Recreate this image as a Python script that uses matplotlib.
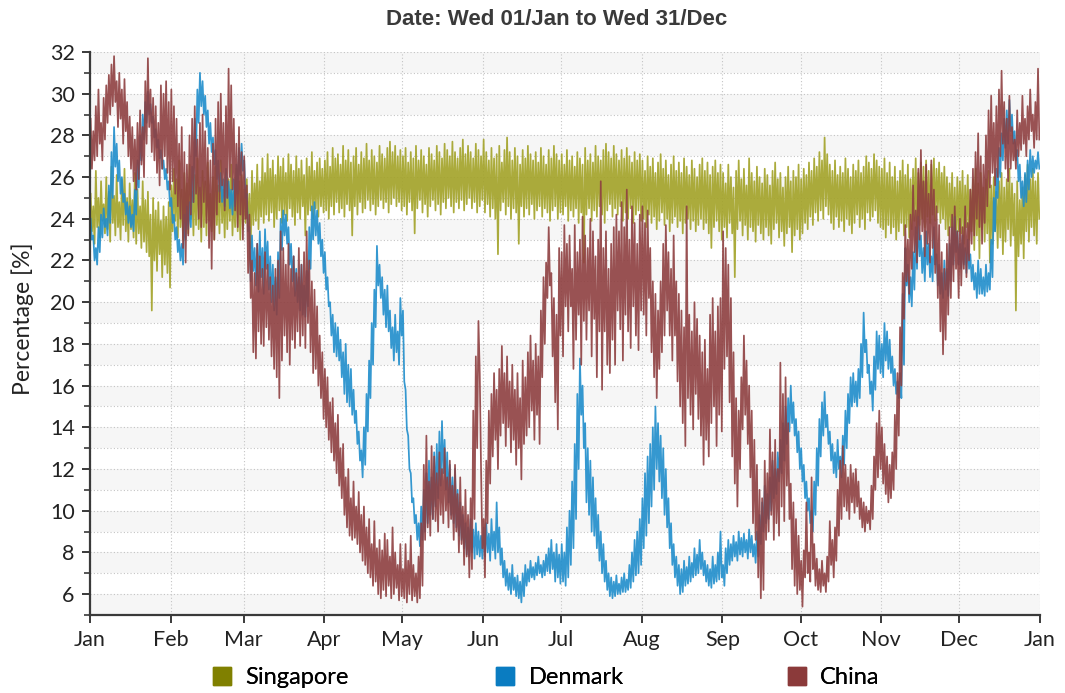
import matplotlib.pyplot as plt
import numpy as np
from matplotlib.lines import Line2D
from matplotlib.ticker import MultipleLocator

month_labels = ["Jan", "Feb", "Mar", "Apr", "May", "Jun", "Jul",
                "Aug", "Sep", "Oct", "Nov", "Dec", "Jan"]
month_starts = [0, 31, 59, 90, 120, 151, 181, 212, 243, 273, 304, 334, 365]
series_names = ["Singapore", "Denmark", "China"]

# daily high / low of each series, one row per month
singapore_hi = [
    25.2, 24.6, 26.3, 25.0, 25.8, 24.7, 26.0, 25.3, 26.5, 25.1, 26.1, 24.8, 25.9, 26.4, 25.0, 25.7, 24.9, 26.2, 25.4, 24.6, 25.8, 24.9, 25.3, 24.2, 25.0, 24.4, 24.8, 23.9, 24.6, 24.1, 24.8,
    25.6, 26.4, 25.9, 26.8, 25.4, 26.2, 25.7, 26.6, 25.3, 26.1, 26.9, 25.5, 26.3, 25.8, 26.7, 25.2, 26.0, 26.5, 25.6, 26.8, 25.4, 26.2, 25.9, 26.6, 25.3, 26.4, 25.8, 26.1,
    25.4, 25.9, 25.2, 26.3, 25.7, 26.6, 25.8, 26.9, 26.2, 27.1, 26.4, 26.8, 26.1, 27.0, 26.5, 26.9, 26.2, 27.1, 26.6, 26.3, 27.0, 26.4, 26.8, 26.1, 26.9, 26.5, 27.2, 26.3, 26.7, 26.9, 26.4,
    26.8, 27.2, 26.5, 27.4, 26.9, 27.1, 26.6, 27.5, 26.8, 27.3, 26.7, 27.0, 27.4, 26.6, 27.2, 26.9, 27.6, 26.8, 27.3, 27.0, 26.7, 27.5, 27.1, 26.9, 27.4, 27.7, 27.2, 27.5, 27.0, 27.3,
    27.0, 27.4, 26.7, 27.2, 26.9, 27.5, 26.8, 27.3, 27.0, 26.6, 27.4, 27.1, 26.8, 27.5, 27.2, 26.9, 27.6, 27.3, 27.0, 27.7, 27.2, 26.9, 27.4, 27.8, 27.1, 27.5, 27.2, 26.9, 27.6, 27.3, 27.0,
    27.8, 27.2, 26.8, 27.4, 26.9, 27.1, 27.5, 26.7, 27.3, 27.9, 27.2, 26.8, 27.4, 27.0, 26.6, 27.3, 26.9, 27.5, 27.1, 26.8, 27.2, 26.7, 27.4, 27.0, 26.6, 27.3, 26.9, 27.5, 27.1, 26.8,
    27.1, 26.6, 27.3, 26.8, 27.0, 26.5, 27.2, 26.9, 26.6, 27.4, 26.8, 27.1, 26.7, 27.5, 27.0, 26.8, 27.3, 27.6, 27.2, 26.9, 27.5, 27.1, 26.8, 27.3, 26.9, 27.4, 27.0, 26.7, 27.2, 26.8, 27.1,
    26.8, 26.3, 27.0, 26.5, 26.9, 26.2, 26.7, 27.1, 26.4, 26.8, 26.1, 26.6, 27.0, 26.3, 26.7, 26.2, 26.9, 26.5, 26.1, 26.8, 26.4, 26.0, 26.6, 26.9, 26.3, 26.7, 26.1, 26.5, 26.8, 26.2, 26.6,
    26.2, 25.7, 26.6, 26.0, 25.5, 26.3, 26.8, 25.9, 26.4, 25.6, 26.9, 26.2, 25.8, 26.5, 26.0, 25.7, 26.4, 26.1, 25.6, 26.3, 26.7, 25.9, 26.2, 25.5, 26.0, 26.5, 25.8, 26.3, 26.0, 26.6,
    25.9, 26.4, 26.1, 26.7, 26.3, 26.9, 26.5, 27.2, 26.8, 27.9, 27.1, 26.6, 26.3, 26.8, 26.1, 26.5, 26.2, 26.9, 26.4, 26.0, 26.6, 26.3, 26.8, 26.2, 26.5, 27.0, 26.7, 26.4, 27.1, 26.8, 26.5,
    26.4, 26.9, 26.2, 26.7, 26.0, 26.5, 25.8, 26.3, 26.8, 26.1, 26.6, 25.9, 26.4, 26.9, 26.2, 26.7, 26.5, 26.8, 26.3, 26.6, 26.9, 26.4, 26.7, 26.2, 26.5, 26.0, 25.7, 26.2, 25.5, 26.0,
    25.8, 26.3, 25.6, 26.1, 25.4, 25.9, 26.4, 25.7, 26.2, 25.5, 25.9, 26.3, 25.6, 26.0, 25.3, 25.8, 26.2, 25.5, 25.9, 26.4, 25.7, 25.2, 25.8, 24.9, 25.5, 26.1, 26.6, 25.9, 26.4, 25.8, 26.2,
]
singapore_lo = [
    23.4, 22.8, 23.6, 23.1, 23.9, 23.3, 23.5, 22.9, 23.8, 23.2, 23.6, 23.0, 23.7, 23.4, 22.9, 23.5, 23.1, 22.8, 23.3, 22.6, 22.9, 22.4, 22.2, 19.6, 22.0, 21.5, 22.3, 21.2, 21.8, 21.4, 20.7,
    23.4, 23.9, 23.1, 23.6, 23.0, 23.8, 23.3, 24.0, 23.2, 23.7, 23.5, 22.9, 23.6, 23.2, 23.9, 23.4, 23.0, 23.7, 23.3, 23.8, 23.1, 23.5, 23.9, 23.2, 23.6, 23.4, 23.0, 23.5,
    23.8, 23.4, 22.6, 23.7, 23.9, 23.5, 24.1, 23.8, 24.2, 23.9, 24.3, 23.6, 24.0, 24.4, 23.8, 24.2, 23.9, 24.5, 24.1, 23.7, 24.3, 24.0, 24.6, 23.2, 24.2, 24.4, 24.0, 24.5, 24.1, 24.6, 24.3,
    24.4, 24.0, 24.6, 24.2, 24.8, 24.3, 24.5, 24.1, 24.7, 24.4, 23.2, 24.6, 24.2, 24.8, 24.3, 24.5, 24.9, 24.4, 24.7, 24.2, 24.6, 24.9, 24.5, 24.8, 24.3, 24.7, 25.0, 24.6, 24.8, 24.4,
    24.6, 24.2, 24.8, 24.4, 23.3, 24.5, 24.9, 24.3, 24.7, 24.1, 24.6, 24.9, 24.4, 24.7, 24.2, 24.8, 24.5, 25.0, 24.6, 24.3, 24.8, 24.5, 24.9, 24.4, 24.7, 25.0, 24.5, 24.8, 24.3, 24.6, 24.9,
    24.3, 24.7, 24.1, 24.5, 24.0, 22.3, 24.4, 24.8, 24.2, 24.6, 24.0, 24.5, 24.3, 22.8, 24.6, 24.1, 24.5, 24.2, 24.7, 24.0, 24.4, 24.6, 24.1, 24.5, 24.3, 23.9, 24.4, 24.6, 24.0, 24.3,
    24.2, 24.6, 23.9, 24.4, 24.1, 24.5, 23.8, 24.3, 21.9, 24.2, 24.5, 23.9, 24.4, 24.1, 24.6, 24.2, 23.8, 24.4, 24.7, 24.1, 24.5, 24.2, 24.6, 23.9, 24.3, 24.0, 24.5, 23.8, 24.2, 24.4, 23.9,
    24.0, 23.6, 24.2, 23.8, 24.1, 23.5, 23.9, 24.3, 23.7, 24.0, 23.4, 23.8, 24.1, 23.6, 23.9, 23.3, 23.8, 24.0, 23.5, 23.9, 23.4, 23.7, 24.0, 23.5, 23.8, 23.3, 22.6, 23.6, 23.9, 23.4, 23.0,
    23.6, 23.1, 23.8, 23.3, 21.2, 23.5, 23.9, 23.2, 23.7, 23.0, 23.6, 23.4, 22.9, 23.7, 23.3, 23.0, 23.6, 23.2, 22.8, 23.5, 23.8, 23.1, 23.4, 22.7, 23.3, 23.6, 22.4, 23.2, 23.5, 23.0,
    23.3, 23.8, 23.5, 24.1, 23.7, 24.3, 23.9, 24.4, 24.0, 24.6, 24.2, 23.8, 23.5, 24.1, 23.6, 23.9, 23.4, 24.0, 23.7, 23.3, 23.8, 24.2, 23.6, 24.0, 23.5, 24.3, 23.9, 24.1, 24.4, 23.8, 23.6,
    23.5, 23.1, 23.7, 23.3, 23.6, 23.0, 23.4, 23.8, 23.2, 23.6, 23.1, 23.5, 23.9, 23.3, 23.7, 24.0, 23.6, 24.1, 23.8, 24.2, 23.9, 24.3, 23.8, 24.0, 23.5, 23.2, 23.6, 23.0, 22.9, 23.4,
    23.3, 22.8, 23.6, 23.0, 23.4, 22.5, 23.2, 22.1, 23.5, 22.9, 23.3, 21.9, 22.8, 23.4, 22.6, 23.1, 22.3, 22.9, 23.5, 22.7, 23.2, 19.6, 22.2, 22.8, 22.1, 23.4, 22.9, 23.6, 23.2, 22.8, 24.0,
]
denmark_hi = [
    24.0, 23.2, 22.6, 23.6, 24.2, 24.5, 24.0, 25.6, 27.2, 28.4, 27.6, 26.8, 26.0, 25.2, 24.8, 24.6, 24.2, 25.4, 26.8, 28.0, 29.0, 29.6, 30.1, 29.5, 28.9, 28.3, 27.8, 27.3, 26.8, 26.4, 25.8,
    25.0, 24.2, 23.6, 23.0, 22.8, 24.2, 24.6, 24.8, 26.5, 28.8, 30.2, 31.0, 30.6, 29.9, 29.2, 28.6, 27.9, 27.3, 26.8, 26.2, 25.9, 26.4, 25.8, 25.4, 25.9, 26.6, 27.4, 27.6,
    26.8, 25.2, 23.6, 23.2, 22.6, 22.8, 23.4, 22.6, 23.5, 22.9, 22.2, 21.8, 21.2, 22.4, 24.0, 24.4, 24.2, 23.6, 22.8, 22.2, 21.6, 21.2, 21.8, 20.8, 21.5, 23.6, 24.6, 24.8, 24.4, 23.8, 23.0,
    22.4, 21.2, 20.0, 19.4, 19.0, 18.8, 18.2, 17.6, 18.0, 17.0, 16.8, 15.8, 14.8, 13.8, 12.9, 14.0, 15.6, 17.2, 19.0, 20.6, 22.7, 21.8, 21.2, 20.6, 20.8, 19.6, 18.8, 19.4, 18.6, 20.2,
    19.6, 15.8, 13.6, 11.8, 10.6, 9.8, 9.4, 10.2, 11.0, 11.8, 12.4, 11.6, 12.8, 13.2, 13.8, 14.3, 13.4, 12.8, 12.2, 11.6, 12.0, 11.0, 10.4, 9.8, 9.4, 9.2, 9.6, 9.1, 9.4, 9.0, 8.8,
    9.2, 9.4, 8.9, 9.6, 9.0, 10.4, 9.2, 8.2, 7.6, 7.2, 7.0, 7.4, 6.8, 6.9, 6.6, 7.0, 7.4, 7.2, 7.6, 7.3, 7.5, 7.8, 7.4, 7.6, 7.9, 8.2, 8.6, 8.0, 8.4, 7.9,
    8.4, 8.0, 9.2, 10.0, 11.4, 13.2, 15.6, 17.3, 16.0, 14.2, 13.0, 12.4, 11.6, 10.6, 9.8, 9.0, 8.4, 7.6, 7.0, 6.8, 6.6, 6.9, 6.5, 6.8, 7.0, 6.7, 7.4, 8.0, 8.6, 9.0, 9.6,
    10.6, 11.8, 12.6, 13.2, 14.0, 15.0, 14.2, 13.6, 13.0, 12.0, 10.6, 9.4, 8.4, 7.8, 7.4, 7.2, 7.6, 7.3, 7.8, 7.5, 8.2, 7.9, 8.6, 8.0, 7.6, 7.4, 7.2, 7.8, 7.4, 8.0, 9.0,
    7.4, 8.2, 8.6, 8.4, 8.8, 8.5, 9.0, 8.7, 8.9, 8.6, 9.1, 8.8, 8.4, 9.0, 9.8, 10.4, 11.2, 10.8, 11.6, 12.4, 12.0, 12.8, 13.4, 14.2, 15.0, 15.4, 16.0, 15.2, 14.4, 13.8,
    13.0, 12.2, 11.4, 10.6, 10.0, 11.4, 13.0, 14.4, 15.2, 15.7, 14.6, 13.8, 13.2, 12.8, 13.4, 12.6, 13.6, 14.8, 15.6, 16.4, 16.6, 16.2, 16.8, 18.0, 19.5, 18.2, 17.0, 16.2, 17.4, 18.6, 18.4,
    18.0, 19.0, 18.6, 18.2, 17.4, 16.8, 16.2, 16.6, 20.4, 22.6, 21.8, 21.2, 22.4, 23.6, 24.1, 23.2, 22.6, 23.4, 22.8, 22.2, 23.6, 22.3, 21.8, 21.4, 22.0, 21.6, 22.8, 23.6, 24.1, 23.4,
    22.8, 23.2, 22.6, 23.0, 22.3, 21.8, 21.4, 22.0, 21.6, 21.2, 21.8, 21.4, 23.0, 25.0, 26.4, 27.4, 28.1, 28.8, 29.2, 29.7, 29.0, 28.2, 27.3, 26.6, 25.8, 26.2, 26.8, 27.3, 27.0, 26.8, 27.2,
]
denmark_lo = [
    23.0, 22.0, 21.8, 22.4, 23.1, 23.6, 23.2, 23.8, 25.0, 26.5, 25.8, 25.2, 24.8, 24.2, 23.8, 23.6, 23.4, 24.2, 25.5, 26.8, 27.8, 28.6, 29.0, 28.6, 27.9, 27.4, 26.9, 26.4, 25.9, 25.4, 24.6,
    23.8, 23.0, 22.4, 22.0, 21.8, 23.0, 23.5, 23.6, 24.8, 27.0, 28.6, 29.4, 29.0, 28.4, 27.6, 27.2, 26.6, 25.9, 25.3, 24.8, 24.6, 25.0, 24.5, 24.2, 24.6, 25.2, 26.1, 26.3,
    25.0, 23.4, 21.0, 21.5, 20.8, 20.5, 21.2, 20.4, 21.6, 20.6, 20.0, 19.6, 19.4, 20.2, 22.5, 23.2, 22.8, 21.8, 21.0, 20.3, 20.0, 19.6, 19.4, 19.3, 19.8, 21.6, 23.0, 23.2, 22.8, 22.2, 21.4,
    20.6, 19.8, 18.4, 17.6, 17.4, 17.2, 16.4, 15.6, 15.2, 15.0, 14.6, 14.2, 13.2, 12.4, 11.6, 12.2, 13.8, 15.4, 17.0, 18.8, 20.8, 20.2, 19.4, 18.8, 18.6, 17.8, 17.2, 17.6, 17.0, 18.4,
    16.2, 13.9, 12.0, 10.4, 9.4, 8.6, 8.3, 8.6, 9.0, 9.4, 9.8, 9.6, 10.2, 10.6, 11.2, 11.8, 11.0, 10.4, 9.8, 9.4, 9.2, 8.8, 8.6, 8.2, 7.9, 7.8, 8.0, 7.7, 7.9, 7.8, 7.7,
    7.8, 8.0, 7.6, 8.1, 7.7, 8.0, 7.4, 6.8, 6.4, 6.2, 6.0, 6.2, 5.9, 5.8, 5.6, 5.9, 6.4, 6.6, 6.8, 6.7, 6.9, 7.0, 6.8, 6.9, 7.1, 7.0, 7.2, 6.6, 6.8, 6.5,
    6.6, 6.4, 6.8, 7.4, 8.2, 9.6, 12.0, 14.6, 13.0, 10.4, 9.8, 9.0, 8.8, 8.2, 7.6, 7.0, 6.6, 6.2, 5.9, 5.8, 5.9, 6.0, 6.0, 6.1, 6.1, 6.2, 6.3, 6.6, 6.9, 7.0, 7.4,
    8.2, 8.8, 9.4, 10.2, 11.0, 12.0, 11.4, 10.6, 9.8, 9.2, 8.2, 7.4, 6.8, 6.4, 6.0, 6.1, 6.4, 6.5, 6.6, 6.8, 6.9, 7.0, 7.2, 6.9, 6.6, 6.4, 6.3, 6.5, 6.6, 6.7, 6.8,
    6.4, 7.0, 7.4, 7.6, 7.8, 7.6, 7.9, 7.8, 8.0, 7.7, 8.0, 7.8, 7.5, 7.8, 8.4, 9.0, 9.4, 9.6, 10.0, 10.6, 10.8, 11.4, 11.8, 12.4, 13.2, 13.8, 14.2, 13.6, 12.8, 12.0,
    11.4, 10.6, 10.0, 9.4, 9.0, 9.8, 11.2, 12.6, 13.6, 14.0, 13.2, 12.4, 11.8, 11.6, 12.0, 11.6, 12.2, 13.0, 14.2, 15.0, 15.2, 15.0, 15.4, 16.4, 17.6, 16.6, 15.6, 14.8, 15.8, 16.8, 16.6,
    16.4, 17.2, 16.8, 16.6, 16.0, 15.6, 15.4, 15.4, 17.0, 20.8, 20.0, 19.8, 20.6, 21.6, 22.2, 21.4, 21.0, 21.8, 21.2, 21.0, 21.8, 20.8, 20.4, 20.2, 20.6, 20.3, 21.0, 21.8, 22.4, 21.8,
    21.6, 21.8, 21.4, 21.6, 21.0, 20.6, 20.2, 20.4, 20.4, 20.3, 20.5, 20.6, 21.2, 23.4, 25.0, 26.0, 26.8, 27.4, 27.6, 28.2, 27.6, 26.8, 25.8, 25.0, 24.6, 24.8, 25.4, 26.0, 26.2, 26.4, 26.4,
]
china_hi = [
    28.8, 28.2, 29.4, 30.2, 28.6, 29.8, 30.4, 30.9, 31.4, 31.8, 30.6, 31.0, 30.2, 30.7, 29.6, 28.9, 28.4, 27.8, 28.6, 29.2, 28.4, 30.6, 31.7, 30.2, 29.8, 29.4, 28.6, 30.4, 30.0, 30.6, 29.6,
    30.2, 29.4, 28.8, 27.6, 28.4, 27.2, 26.6, 28.0, 28.8, 29.4, 27.8, 28.6, 29.0, 28.2, 27.4, 26.8, 27.6, 28.8, 29.6, 30.0, 28.6, 29.4, 31.2, 30.4, 28.8, 27.6, 28.4, 27.2,
    27.0, 25.6, 24.2, 22.0, 21.4, 22.8, 22.2, 21.6, 22.4, 21.8, 21.2, 20.8, 21.6, 22.0, 23.4, 22.6, 21.8, 22.8, 21.6, 22.2, 21.4, 22.6, 21.8, 22.4, 23.4, 22.0, 21.0, 20.6, 19.8, 18.4, 17.6,
    16.8, 16.4, 15.2, 15.4, 14.2, 14.6, 13.0, 13.2, 11.6, 12.0, 10.6, 11.4, 10.2, 10.9, 9.8, 10.2, 9.2, 9.6, 8.4, 9.5, 8.2, 8.6, 8.1, 8.9, 8.6, 7.8, 9.2, 8.0, 7.4, 8.4,
    7.2, 8.4, 7.6, 8.8, 7.4, 7.0, 7.8, 9.4, 12.2, 13.6, 11.4, 13.1, 12.6, 11.8, 12.8, 12.0, 13.0, 11.6, 12.4, 11.2, 12.2, 10.8, 11.6, 10.2, 11.0, 9.8, 10.6, 14.8, 17.4, 19.1, 12.0,
    9.6, 12.4, 14.8, 15.6, 16.6, 15.8, 16.8, 17.9, 16.6, 17.4, 16.2, 17.0, 15.8, 16.6, 15.4, 17.2, 16.4, 17.6, 18.4, 17.2, 18.0, 17.4, 19.6, 21.2, 21.9, 23.6, 21.4, 20.2, 19.4, 22.6,
    22.4, 23.7, 22.8, 23.2, 21.6, 23.7, 22.4, 23.0, 24.1, 23.2, 22.6, 24.0, 23.4, 22.2, 23.0, 25.8, 22.6, 23.4, 21.6, 22.8, 23.6, 24.2, 23.4, 24.8, 23.6, 25.4, 23.0, 24.6, 23.8, 22.8, 24.2,
    24.6, 23.8, 24.4, 22.6, 21.0, 20.4, 19.6, 21.0, 22.8, 23.7, 22.4, 21.6, 23.2, 21.0, 20.4, 19.6, 18.8, 24.6, 19.4, 18.6, 20.0, 19.2, 18.4, 17.6, 18.2, 16.8, 19.4, 20.2, 18.6, 19.8, 20.2,
    23.4, 22.6, 21.8, 20.2, 17.6, 15.4, 14.8, 16.4, 18.4, 17.2, 16.0, 14.8, 13.4, 12.2, 11.0, 10.6, 12.4, 11.8, 13.9, 12.8, 13.4, 12.0, 17.1, 15.6, 16.4, 14.2, 11.3, 10.4, 9.6, 8.8,
    7.6, 8.1, 10.4, 8.0, 11.6, 8.4, 7.7, 7.2, 7.6, 7.0, 7.8, 9.5, 8.6, 9.2, 11.0, 12.4, 13.1, 12.2, 11.6, 12.2, 11.8, 12.0, 11.4, 10.6, 10.4, 10.2, 10.0, 11.2, 12.6, 14.2, 14.8,
    14.0, 13.2, 12.6, 12.2, 12.8, 14.6, 16.6, 18.8, 21.4, 23.7, 23.0, 24.2, 25.6, 24.4, 26.4, 27.3, 25.8, 26.6, 25.2, 26.8, 25.4, 24.6, 23.7, 22.4, 21.6, 22.8, 23.6, 24.2, 24.6, 23.4,
    24.0, 23.6, 24.6, 23.8, 25.4, 26.4, 27.2, 28.1, 27.0, 26.6, 28.0, 29.2, 29.9, 28.6, 29.4, 30.2, 31.1, 29.6, 28.8, 29.9, 28.4, 27.8, 29.2, 28.6, 29.9, 28.8, 29.4, 30.2, 29.0, 29.6, 31.2,
]
china_lo = [
    26.4, 26.8, 27.0, 27.6, 26.8, 27.8, 28.6, 29.0, 29.4, 29.6, 28.4, 28.8, 27.6, 28.2, 27.0, 26.4, 25.8, 25.4, 25.9, 26.6, 26.0, 27.6, 28.4, 27.2, 26.8, 26.2, 25.6, 26.4, 27.0, 26.2, 25.4,
    25.8, 25.2, 24.6, 24.0, 22.6, 21.9, 23.2, 24.2, 24.8, 25.2, 24.0, 23.6, 24.8, 23.8, 22.6, 21.6, 23.0, 24.2, 24.8, 25.6, 24.4, 25.0, 26.0, 25.4, 24.4, 23.6, 24.2, 23.0,
    24.0, 21.4, 20.2, 17.6, 17.3, 18.6, 18.0, 17.9, 18.8, 18.2, 17.4, 16.8, 16.4, 15.4, 17.2, 18.4, 17.6, 17.0, 18.2, 17.8, 18.6, 17.9, 18.4, 17.8, 19.0, 17.6, 16.6, 16.8, 16.0, 15.4, 14.4,
    14.0, 13.4, 12.8, 12.4, 11.8, 11.2, 10.6, 9.8, 9.2, 8.8, 8.6, 8.7, 8.4, 8.0, 7.6, 7.4, 7.0, 6.8, 6.4, 6.6, 6.0, 5.8, 6.2, 5.9, 6.4, 5.8, 6.0, 6.3, 5.7, 5.9,
    5.8, 5.6, 6.0, 5.7, 5.9, 5.6, 5.8, 6.4, 8.6, 9.2, 8.8, 9.6, 9.5, 9.0, 9.8, 9.4, 10.0, 9.2, 9.6, 8.6, 9.0, 8.0, 8.4, 7.4, 7.8, 6.8, 7.2, 9.6, 13.0, 16.6, 8.2,
    6.8, 9.4, 11.3, 12.6, 13.4, 12.0, 13.6, 14.2, 13.1, 14.0, 12.8, 13.4, 12.2, 13.0, 11.5, 13.2, 13.6, 14.0, 14.8, 13.4, 14.6, 13.2, 16.4, 18.0, 20.2, 20.8, 17.4, 15.2, 13.9, 18.4,
    17.4, 19.8, 18.6, 19.8, 16.8, 18.2, 19.4, 17.0, 19.1, 18.2, 19.6, 17.4, 19.2, 16.4, 18.6, 15.8, 18.6, 17.0, 16.6, 18.2, 17.0, 19.6, 18.7, 17.2, 19.4, 18.6, 17.8, 19.8, 18.4, 17.7, 19.6,
    19.4, 18.4, 20.2, 17.6, 16.4, 15.4, 16.8, 17.6, 18.4, 19.6, 18.4, 17.2, 18.4, 16.2, 15.0, 14.2, 13.1, 15.4, 14.6, 13.9, 15.6, 14.4, 13.6, 12.2, 13.4, 12.6, 14.2, 15.0, 13.1, 14.6, 13.8,
    16.8, 17.4, 15.2, 12.6, 11.3, 10.2, 12.0, 13.9, 14.6, 13.2, 11.6, 9.4, 8.6, 6.8, 5.8, 6.2, 8.6, 9.0, 9.8, 8.6, 9.4, 8.8, 10.2, 9.5, 11.2, 9.6, 7.2, 6.4, 6.0, 6.2,
    5.4, 6.8, 7.0, 6.6, 7.2, 6.4, 6.2, 6.1, 6.4, 6.1, 6.6, 7.4, 6.8, 7.6, 8.8, 9.6, 10.2, 10.0, 9.6, 10.4, 9.9, 10.2, 9.6, 9.2, 9.0, 9.4, 9.1, 9.6, 11.0, 11.6, 12.0,
    11.3, 10.8, 10.4, 10.6, 11.0, 12.0, 13.6, 16.0, 19.2, 21.0, 20.4, 21.6, 22.4, 21.9, 23.0, 23.4, 22.2, 22.8, 21.9, 22.6, 21.4, 20.2, 18.6, 17.5, 18.2, 19.4, 20.2, 21.0, 21.6, 20.2,
    20.8, 21.6, 21.2, 22.0, 22.8, 23.2, 24.0, 23.6, 22.8, 23.8, 24.6, 25.5, 26.2, 25.6, 26.0, 27.0, 27.6, 26.4, 25.8, 26.4, 26.8, 26.4, 27.0, 27.3, 27.6, 27.0, 27.8, 28.2, 27.4, 27.8, 27.8,
]

line_colors = ["#a2a227", "#1f8dcb", "#8e3f40"]
legend_colors = ["#808000", "#0a7cc1", "#8b3a3a"]
legend_left = [0.197, 0.463, 0.737]

plt.rcParams["font.family"] = ["Lato", "DejaVu Sans"]


def zigzag(hi, lo):
    # two samples per day: daily high then daily low
    return np.column_stack([hi, lo]).ravel()


fig = plt.figure(figsize=(10.65, 6.93), dpi=100)
ax = fig.add_axes([0.0845, 0.1126, 0.892, 0.8124])

hours = np.arange(2 * len(singapore_hi)) / 2 + 0.25
for name, hi, lo, color in zip(series_names,
                               [singapore_hi, denmark_hi, china_hi],
                               [singapore_lo, denmark_lo, china_lo],
                               line_colors):
    ax.plot(hours, zigzag(hi, lo), color=color, lw=1.25, alpha=0.9, label=name)

for k in range(5, 32, 2):
    ax.axhspan(k, k + 1, color="#f6f6f6", zorder=0, lw=0)

ax.set_xlim(0, 365)
ax.set_ylim(5, 32)
ax.set_xticks(month_starts)
ax.set_xticklabels(month_labels)
ax.yaxis.set_major_locator(MultipleLocator(2))
ax.yaxis.set_minor_locator(MultipleLocator(1))
ax.set_yticks([6 + 2 * i for i in range(14)])

ax.grid(which="both", axis="y", linestyle=(0, (1, 2)), color="#c4c4c4", lw=0.8)
ax.grid(which="major", axis="x", linestyle=(0, (1, 2)), color="#c4c4c4", lw=0.8)
ax.set_axisbelow(True)

for side in ["top", "right"]:
    ax.spines[side].set_visible(False)
for side in ["left", "bottom"]:
    ax.spines[side].set_color("#3a3a3a")
    ax.spines[side].set_linewidth(1.6)

ax.tick_params(axis="both", which="major", labelsize=15.5, colors="#3a3a3a",
               labelcolor="#222222", length=6, width=1.4, pad=5)
ax.tick_params(axis="y", which="minor", length=4, width=1.2, colors="#3a3a3a")

fig.text(0.523, 0.972, "Date: Wed 01/Jan to Wed 31/Dec", ha="center", va="center",
         fontsize=16, fontweight="bold", color="#3a3a3a",
         family=["Liberation Sans", "DejaVu Sans"])
fig.text(0.021, 0.54, "Percentage [%]", rotation=90, ha="center", va="center",
         fontsize=16.5, color="#222222")

for name, color, x0 in zip(series_names, legend_colors, legend_left):
    handle = Line2D([], [], marker="s", linestyle="none", markersize=13,
                    markerfacecolor=color, markeredgecolor=color)
    leg = fig.legend([handle], [name], loc="center left",
                     bbox_to_anchor=(x0, 0.022), frameon=False, fontsize=17,
                     handletextpad=0.5, handlelength=1.0, borderpad=0,
                     borderaxespad=0)
    fig.add_artist(leg)

fig.savefig("out.png", dpi=100)
